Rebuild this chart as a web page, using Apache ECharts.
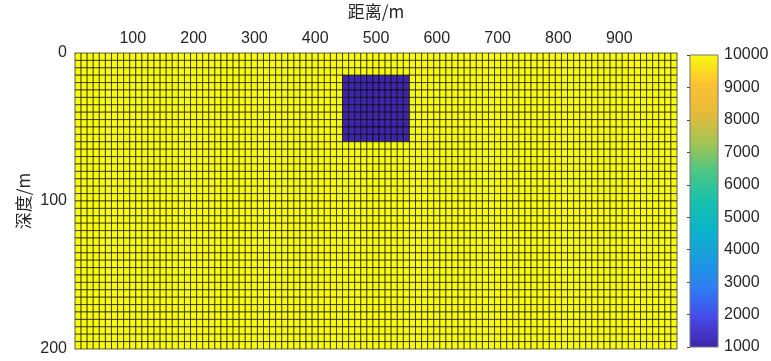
<!DOCTYPE html>
<html>
<head>
<meta charset="utf-8">
<title>速度模型</title>
<script src="https://cdn.jsdelivr.net/npm/echarts@6/dist/echarts.min.js"></script>
<style>
  html, body { margin: 0; padding: 0; background: #fff; }
  #chart { width: 771px; height: 361px; }
</style>
</head>
<body>
<div id="chart"></div>
<script>
// 网格：99 列 x 40 行，列宽 10 m，行高 5 m
const colStart = 5
const colWidth = 10
const colCount = 99
const rowWidth = 5
const rowCount = 40

// 背景值与异常体
const backgroundValue = 10000
const anomalyValue = 1000
const anomalyX = [445, 555]   // 距离范围 m
const anomalyZ = [15, 60]     // 深度范围 m

// 刻度
const xTicks = [100, 200, 300, 400, 500, 600, 700, 800, 900]
const yTicks = [0, 100, 200]
const cbarRange = [1000, 10000]

// parula 色带
const PARULA = [
  '#3e26a8', '#4748e8', '#2f7cf4', '#1b9be0', '#0bb3cb',
  '#18c0ad', '#4dc684', '#a4c451', '#e6ba3a', '#fdc231', '#f9fb0e'
]

// 构造单元格数据 [x0, x1, z0, z1, value]
const cells = []
for (let j = 0; j < rowCount; j++) {
  for (let i = 0; i < colCount; i++) {
    const x0 = colStart + i * colWidth
    const z0 = j * rowWidth
    const cx = x0 + colWidth / 2
    const cz = z0 + rowWidth / 2
    const inside = cx > anomalyX[0] && cx < anomalyX[1] && cz > anomalyZ[0] && cz < anomalyZ[1]
    cells.push([x0, x0 + colWidth, z0, z0 + rowWidth, inside ? anomalyValue : backgroundValue])
  }
}

const xMin = colStart
const xMax = colStart + colCount * colWidth
const zMax = rowCount * rowWidth

const chart = echarts.init(document.getElementById('chart'))
const FONT = 'Liberation Sans, Arial, sans-serif'
const CJK = 'Noto Sans CJK SC, Liberation Sans, sans-serif'
const TXT = '#262626'

chart.setOption({
  animation: false,
  textStyle: { fontFamily: FONT },
  grid: [
    { left: 75, top: 53, width: 602, height: 296, outerBoundsMode: 'none', containLabel: false },
    { left: 690, top: 55, width: 28, height: 292, outerBoundsMode: 'none', containLabel: false },
  ],
  xAxis: [
    {
      gridIndex: 0,
      type: 'value',
      position: 'top',
      min: xMin,
      max: xMax,
      name: '距离/m',
      nameLocation: 'middle',
      nameGap: 33,
      nameTextStyle: { fontSize: 17, color: TXT, fontFamily: CJK },
      axisLine: { show: true, lineStyle: { color: '#555' } },
      axisTick: { show: false },
      splitLine: { show: false },
      axisLabel: { customValues: xTicks, fontSize: 16, color: TXT, margin: 6, fontFamily: FONT },
    },
    { gridIndex: 1, type: 'value', min: 0, max: 1, show: false },
  ],
  yAxis: [
    {
      gridIndex: 0,
      type: 'value',
      inverse: true,
      min: 0,
      max: zMax,
      interval: 100,
      name: '深度/m',
      nameLocation: 'middle',
      nameGap: 43,
      nameMoveOverlap: false,
      nameRotate: 90,
      nameTextStyle: { fontSize: 17, color: TXT, fontFamily: CJK },
      axisLine: { show: true, lineStyle: { color: '#555' } },
      axisTick: { show: false },
      splitLine: { show: false },
      axisLabel: { customValues: yTicks, fontSize: 16, color: TXT, margin: 8, fontFamily: FONT },
    },
    {
      gridIndex: 1,
      type: 'value',
      position: 'right',
      min: cbarRange[0],
      max: cbarRange[1],
      interval: 1000,
      axisLine: { show: false },
      axisTick: { show: true, inside: true, length: 3, lineStyle: { color: '#444' } },
      splitLine: { show: false },
      axisLabel: { fontSize: 16, color: TXT, margin: 6, fontFamily: FONT, formatter: (v) => String(v) },
    },
  ],
  visualMap: {
    show: false,
    type: 'continuous',
    seriesIndex: 0,
    dimension: 4,
    min: cbarRange[0],
    max: cbarRange[1],
    inRange: { color: PARULA },
  },
  series: [
    {
      type: 'custom',
      xAxisIndex: 0,
      yAxisIndex: 0,
      encode: { x: [0, 1], y: [2, 3] },
      data: cells,
      renderItem: (params, api) => {
        const p0 = api.coord([api.value(0), api.value(2)])
        const p1 = api.coord([api.value(1), api.value(3)])
        return {
          type: 'rect',
          shape: { x: p0[0], y: p0[1], width: p1[0] - p0[0], height: p1[1] - p0[1] },
          style: { fill: api.visual('color'), stroke: 'rgba(0,0,0,0.62)', lineWidth: 1 },
        }
      },
    },
    {
      // 色标
      type: 'custom',
      xAxisIndex: 1,
      yAxisIndex: 1,
      encode: { x: [0, 1], y: [2, 3] },
      data: [[0, 1, cbarRange[0], cbarRange[1]]],
      renderItem: (params, api) => {
        const p0 = api.coord([api.value(0), api.value(3)])
        const p1 = api.coord([api.value(1), api.value(2)])
        return {
          type: 'rect',
          shape: { x: p0[0], y: p0[1], width: p1[0] - p0[0], height: p1[1] - p0[1] },
          style: {
            fill: new echarts.graphic.LinearGradient(0, 1, 0, 0,
              PARULA.map((c, i) => ({ offset: i / (PARULA.length - 1), color: c }))),
            stroke: '#777',
            lineWidth: 1,
          },
        }
      },
    },
  ],
})
</script>
</body>
</html>
